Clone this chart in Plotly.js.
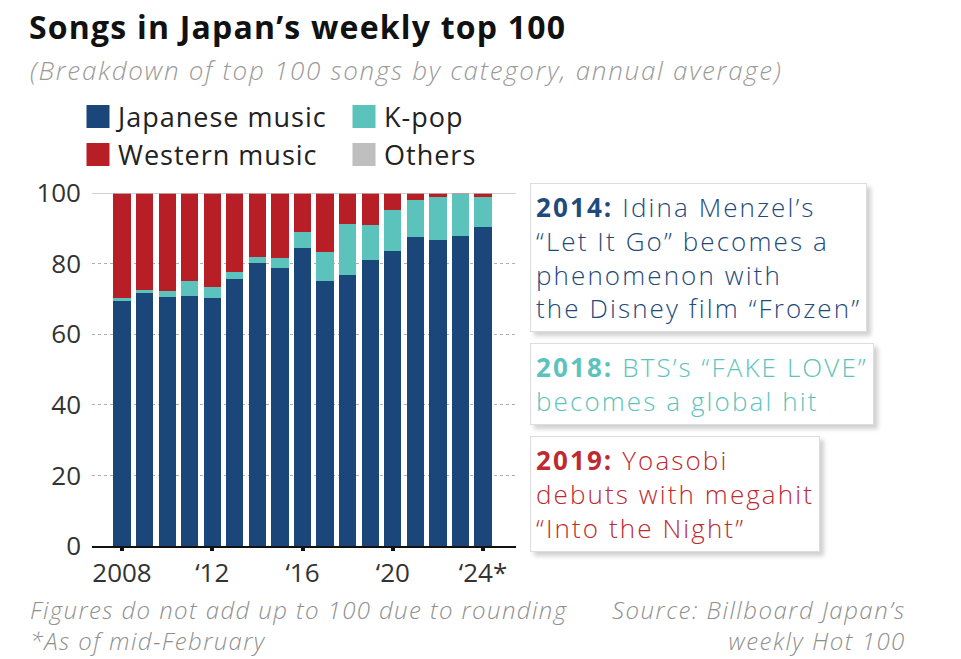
<!DOCTYPE html>
<html>
<head>
<meta charset="utf-8">
<script src="https://cdn.plot.ly/plotly-3.0.1.min.js"></script>
<style>
  html, body { margin: 0; padding: 0; background: #fff; }
  #chart { width: 961px; height: 659px; }
</style>
</head>
<body>
<div id="chart"></div>
<script>
var years = [2008, 2009, 2010, 2011, 2012, 2013, 2014, 2015, 2016, 2017, 2018, 2019, 2020, 2021, 2022, 2023, 2024]
var japanese = [69.5, 71.8, 70.6, 70.7, 70.3, 75.6, 80.3, 78.7, 84.5, 75.2, 76.9, 80.9, 83.6, 87.4, 86.6, 87.9, 90.3]
var kpop     = [0.7, 0.7, 1.6, 4.5, 3.0, 1.9, 1.7, 2.9, 4.5, 8.2, 14.2, 9.9, 11.6, 10.6, 12.2, 11.8, 8.7]
var others   = [0, 0, 0, 0, 0, 0, 0, 0, 0, 0, 0, 0, 0, 0, 0, 0, 0]
var western  = [29.8, 27.5, 27.8, 24.8, 26.7, 22.5, 18.0, 18.4, 11.0, 16.6, 8.9, 9.2, 4.8, 2.0, 1.2, 0.3, 1.0]

var tickYears = [2008, 2012, 2016, 2020, 2024]
var tickLabels = ["2008", "\u201812", "\u201816", "\u201820", "\u201824*"]

var FONT = "'Open Sans', Lato, sans-serif"
var BLUE = "#1b4679"
var TEAL = "#5cc3bc"
var RED = "#b81e25"
var GREY = "#bfbfbf"

// the original typeface runs wider than Open Sans, so open the letters up a little
function wide(text, ls) {
    return '<span style="letter-spacing:' + ls + 'px">' + text + "</span>"
}

var data = [
    { name: wide("Japanese music", 1), x: years, y: japanese, type: "bar", marker: { color: BLUE }, legend: "legend" },
    { name: wide("K-pop", 1), x: years, y: kpop, type: "bar", marker: { color: TEAL }, legend: "legend2" },
    { name: wide("Others", 1), x: years, y: others, type: "bar", marker: { color: GREY }, legend: "legend4" },
    { name: wide("Western music", 1), x: years, y: western, type: "bar", marker: { color: RED }, legend: "legend3" }
]

// pixel -> paper helpers for the plot area (92..516 x, 546..193 y)
function px(v) { return (v - 92) / 424 }
function py(v) { return (546 - v) / 353 }

function note(text, color, x, y) {
    return {
        text: wide(text, 2.1), xref: "paper", yref: "paper", x: px(x), y: py(y),
        xanchor: "left", yanchor: "top", align: "left", showarrow: false,
        font: { family: FONT, size: 26, color: color, weight: 300 },
        bgcolor: "#ffffff", borderpad: 5, borderwidth: 1, bordercolor: "#dddddd"
    }
}

var annotations = [
    note("<b>2014:</b> Idina Menzel\u2019s<br>\u201cLet It Go\u201d becomes a<br>phenomenon with<br>the Disney film \u201cFrozen\u201d", "#1f4a7c", 530, 183),
    note("<b>2018:</b> BTS\u2019s \u201cFAKE LOVE\u201d<br>becomes a global hit", "#5cc3bc", 530, 343),
    note("<b>2019:</b> Yoasobi<br>debuts with megahit<br>\u201cInto the Night\u201d", "#bf2a30", 530, 436),
    {
        text: wide("<i>(Breakdown of top 100 songs by category, annual average)</i>", 1.7),
        xref: "paper", yref: "paper", x: px(28), y: py(50),
        xanchor: "left", yanchor: "top", showarrow: false,
        font: { family: FONT, size: 26, color: "#9a9a9a", weight: 300 }
    },
    {
        text: wide("<i>Figures do not add up to 100 due to rounding<br>*As of mid-February</i>", 1.4),
        xref: "paper", yref: "paper", x: px(28), y: py(591),
        xanchor: "left", yanchor: "top", align: "left", showarrow: false,
        font: { family: FONT, size: 24, color: "#8f8f8f", weight: 300 }
    },
    {
        text: wide("<i>Source: Billboard Japan\u2019s<br>weekly Hot 100</i>", 1.5),
        xref: "paper", yref: "paper", x: px(908), y: py(591),
        xanchor: "right", yanchor: "top", align: "right", showarrow: false,
        font: { family: FONT, size: 24, color: "#8f8f8f", weight: 300 }
    }
]

function legendAt(x, y) {
    return {
        orientation: "h",
        xref: "container", yref: "container",
        x: x / 961, y: 1 - y / 659,
        xanchor: "left", yanchor: "middle",
        font: { family: FONT, size: 27, color: "#222" },
        bgcolor: "rgba(0,0,0,0)"
    }
}

var layout = {
    width: 961,
    height: 659,
    barmode: "stack",
    bargap: 0.235,
    showlegend: true,
    title: {
        text: wide("<b>Songs in Japan\u2019s weekly top 100</b>", 1.2),
        font: { family: FONT, size: 32, color: "#111" },
        xref: "container", yref: "container",
        x: 29 / 961, xanchor: "left",
        y: 1 - 28 / 659, yanchor: "middle"
    },
    legend: legendAt(78, 117),
    legend2: legendAt(344, 117),
    legend3: legendAt(78, 155),
    legend4: legendAt(344, 155),
    xaxis: {
        range: [2006.67, 2025.46],
        tickvals: tickYears,
        ticktext: tickLabels,
        showgrid: false,
        showline: true,
        linecolor: "#111",
        linewidth: 1.5,
        ticks: "outside",
        ticklen: 3,
        tickwidth: 4,
        tickcolor: "#111",
        tickfont: { family: FONT, size: 26, color: "#333" },
        fixedrange: true
    },
    yaxis: {
        range: [0, 100],
        tickvals: [0, 20, 40, 60, 80, 100],
        showgrid: true,
        gridcolor: "#b0b0b0",
        griddash: "dot",
        gridwidth: 1,
        zeroline: false,
        ticklabelstandoff: 10,
        tickfont: { family: FONT, size: 26, color: "#333" },
        fixedrange: true
    },
    shapes: [
        { type: "line", xref: "paper", yref: "y", x0: 0, x1: 1, y0: 100, y1: 100,
          line: { color: "#c4c4c4", width: 1.5 } }
    ],
    annotations: annotations,
    margin: { t: 193, b: 113, l: 92, r: 445, pad: 0 },
    plot_bgcolor: "#ffffff",
    paper_bgcolor: "#ffffff",
    hovermode: false
}

function touchUp(gd) {
    // make the legend squares as large as in the original
    gd.querySelectorAll(".legendpoints path").forEach(function (p) {
        p.setAttribute("d", "M11.5,11.5H-11.5V-11.5H11.5Z")
    })
    // soft drop shadow behind the three note boxes
    gd.querySelectorAll(".annotation-text-g rect.bg").forEach(function (r, i) {
        if (i < 3) r.style.filter = "drop-shadow(4px 4px 2px rgba(0,0,0,0.18))"
    })
}

Plotly.newPlot("chart", data, layout, { displayModeBar: false, staticPlot: true }).then(function (gd) {
    touchUp(gd)
    gd.on("plotly_afterplot", function () { touchUp(gd) })
})
</script>
</body>
</html>
